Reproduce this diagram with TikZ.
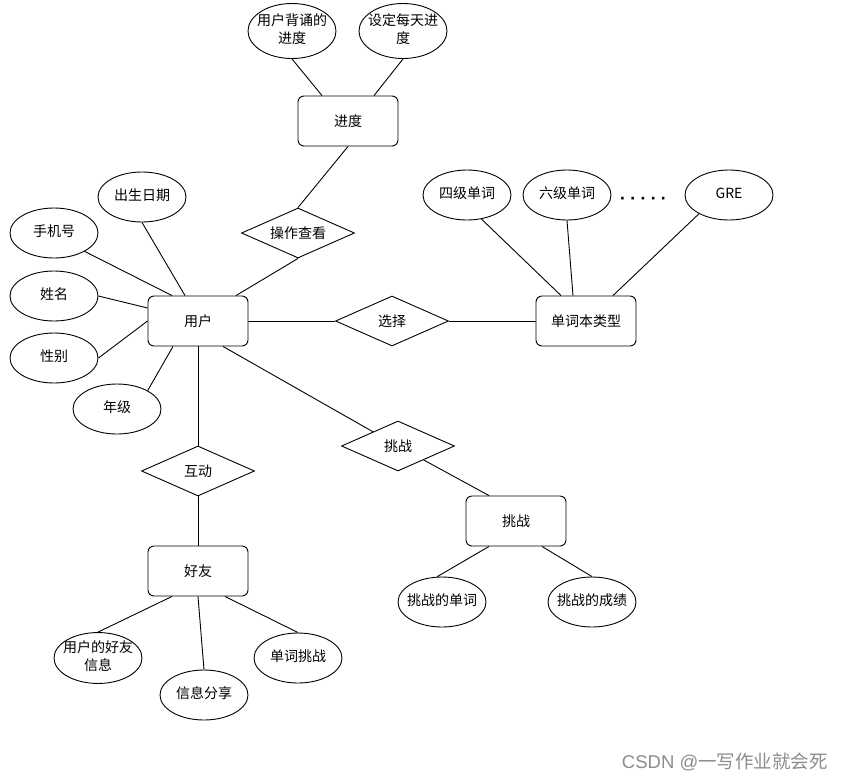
\documentclass[tikz,border=0pt]{standalone}
\usepackage{fontspec}
\setmainfont{Noto Sans CJK SC}
\newfontfamily\dvs{DejaVu Sans}
\newfontfamily\lsans{Liberation Sans}
\usetikzlibrary{shapes.geometric,calc}
\newcommand\zbox[1]{\makebox[0pt]{\begin{tabular}{@{}c@{}}#1\end{tabular}}}
\begin{document}
\begin{tikzpicture}[x=1pt,y=-1pt,
  every node/.style={font=\fontsize{14}{18}\selectfont},
  ent/.style={draw,rounded corners=6pt,minimum width=100pt,minimum height=50pt,inner sep=0pt,line width=0.9pt},
  attr/.style={draw,ellipse,minimum width=88pt,minimum height=50pt,inner sep=0pt,line width=0.9pt},
  rel/.style={draw,diamond,minimum width=113pt,minimum height=50pt,inner sep=0pt,shape aspect=2.3,line width=0.9pt},
  conn/.style={line width=0.9pt}]
\fill[white] (0,0) rectangle (844,780);
\path[use as bounding box] (0,0) rectangle (844,780);
% nodes
\node[ent] (jd) at (348,121) {进度};
\node[attr,minimum height=55pt] (e1) at (292,31) {\zbox{用户背诵的\\进度}};
\node[attr,minimum height=55pt] (e2) at (403,31) {\zbox{设定每天进\\度}};
\node[rel] (czck) at (298,233) {操作查看};
\node[ent] (yh) at (198,321) {用户};
\node[attr] (csrq) at (142,197) {\zbox{出生日期}};
\node[attr] (sjh) at (54,233) {\zbox{手机号}};
\node[attr] (xm) at (54,296) {\zbox{姓名}};
\node[attr] (xb) at (54,358) {\zbox{性别}};
\node[attr] (nj) at (117,409) {\zbox{年级}};
\node[rel] (hd) at (198,471) {互动};
\node[ent] (hy) at (198,571) {好友};
\node[attr] (hyxx) at (98,658) {\zbox{用户的好友\\信息}};
\node[attr] (xxfx) at (204,695) {\zbox{信息分享}};
\node[attr] (djtz) at (298,658) {\zbox{单词挑战}};
\node[rel] (xz) at (392,321) {选择};
\node[ent] (dc) at (586,321) {单词本类型};
\node[attr] (sj) at (467,195) {\zbox{四级单词}};
\node[attr] (lj) at (567,195) {\zbox{六级单词}};
\node (dots) at (643,200) {\dvs\bfseries · · · · ·};
\node[attr] (gre) at (729,195) {\zbox{GRE}};
\node[rel] (tz) at (398,446) {挑战};
\node[ent] (tzr) at (516,521) {挑战};
\node[attr] (tzdc) at (442,602) {\zbox{挑战的单词}};
\node[attr] (tzcj) at (592,602) {\zbox{挑战的成绩}};
\node[text=black!45, font=\fontsize{18.5}{22}\selectfont, anchor=east, inner sep=0pt] (wm) at (828,762) {{\lsans CSDN @}一写作业就会死};
% connectors
\draw[conn] ([xshift=-26pt]jd.north) -- (e1.south);
\draw[conn] ([xshift=26pt]jd.north) -- (e2.south);
\draw[conn] (jd.south) -- (czck.north);
\draw[conn] (czck.south) -- ([xshift=38pt]yh.north);
\draw[conn] (csrq.south) -- ([xshift=-13pt]yh.north);
\draw[conn] (sjh.-31) -- ([xshift=-26pt]yh.north);
\draw[conn] (xm.east) -- ([yshift=13pt]yh.west);
\draw[conn] (xb.east) -- (yh.west);
\draw[conn] (nj.31) -- ([xshift=-25pt]yh.south);
\draw[conn] (yh.south) -- (hd.north);
\draw[conn] (hd.south) -- (hy.north);
\draw[conn] ([xshift=-26pt]hy.south) -- (hyxx.north);
\draw[conn] (hy.south) -- (xxfx.north);
\draw[conn] ([xshift=27pt]hy.south) -- (djtz.north);
\draw[conn] (yh.east) -- (xz.west);
\draw[conn] (xz.east) -- (dc.west);
\draw[conn] (sj.-59) -- ([xshift=-25pt]dc.north);
\draw[conn] (lj.south) -- ([xshift=-13pt]dc.north);
\draw[conn] (gre.-148) -- ([xshift=27pt]dc.north);
\draw[conn] ([xshift=25pt]yh.south) -- (tz);
\draw[conn] (tz) -- ([xshift=-27pt]tzr.north);
\draw[conn] ([xshift=-27pt]tzr.south) -- (tzdc.101);
\draw[conn] ([xshift=26pt]tzr.south) -- (tzcj.north);
\end{tikzpicture}
\end{document}
